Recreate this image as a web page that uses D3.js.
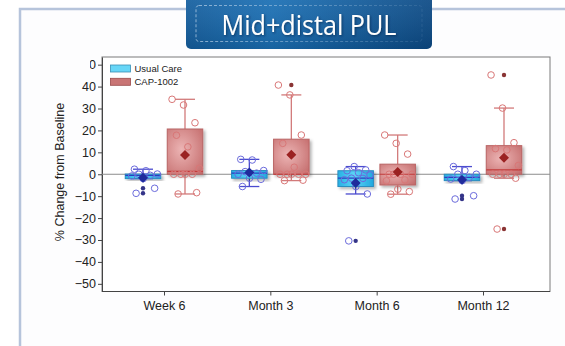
<!DOCTYPE html>
<html>
<head>
<meta charset="utf-8">
<script src="https://cdn.jsdelivr.net/npm/d3@7"></script>
<style>
  html, body { margin: 0; padding: 0; background: #fff; }
  svg { display: block; }
</style>
</head>
<body>
<svg id="chart" width="565" height="346"></svg>
<script>
// Visits and treatment groups
const categories = ["Week 6", "Month 3", "Month 6", "Month 12"];
const groups = ["Usual Care", "CAP-1002"];

// % change from baseline per subject, one array per visit
const usualCare = [
  [-8.7, -6.4, -2.0, -0.8, -0.5, 0, 0.1, 1.6, 2.3],
  [-5.6, -2.3, -1.8, 0, 0.5, 1.2, 1.7, 6.5, 6.8],
  [-30.4, -9.0, -5.6, -2.5, -1.9, -1.8, -0.3, 0.7, 1.6, 2.0, 3.5],
  [-11.3, -9.8, -2.9, -2.2, -1.4, 0, 0, 1.7, 3.5]
];
const cap1002 = [
  [-9.0, -8.4, 0, 0, 0, 0, 2.7, 12.5, 17.8, 23.5, 31.6, 34.2],
  [-2.9, -2.7, 0, 0, 0, 0, 0, 3.2, 14.1, 17.9, 36.2, 40.7],
  [-9.1, -7.9, -6.8, -3.0, -2.6, 0, 0, 0, 0, 9.2, 14.1, 17.9],
  [-25.0, -1.8, 0, 0, 0, 0, 4.0, 11.1, 11.7, 14.4, 30.2, 45.3]
];

const yTicks = [50, 40, 30, 20, 10, 0, -10, -20, -30, -40, -50];
const titleText = "Mid+distal PUL";
const yLabel = "% Change from Baseline";

// ---- layout ----
const plot = { left: 102, right: 550, top: 57, bottom: 291.5 };
const boxW = 35.5, groupOffset = 21, capW = 20, jitterHalf = 15;

const svg = d3.select("#chart");
const defs = svg.append("defs");

// gradients / filters
const bannerGrad = defs.append("linearGradient").attr("id", "bannerGrad")
  .attr("x1", "0").attr("x2", "1").attr("y1", "0").attr("y2", "0");
bannerGrad.append("stop").attr("offset", "0%").attr("stop-color", "#145fa0");
bannerGrad.append("stop").attr("offset", "35%").attr("stop-color", "#1a70b6");
bannerGrad.append("stop").attr("offset", "100%").attr("stop-color", "#0b4a86");

const bannerShade = defs.append("linearGradient").attr("id", "bannerShade")
  .attr("x1", "0").attr("x2", "0").attr("y1", "0").attr("y2", "1");
bannerShade.append("stop").attr("offset", "0%").attr("stop-color", "#fff").attr("stop-opacity", 0.08);
bannerShade.append("stop").attr("offset", "100%").attr("stop-color", "#000").attr("stop-opacity", 0.12);

const dashGrad = defs.append("linearGradient").attr("id", "dashGrad")
  .attr("x1", "0").attr("x2", "1").attr("y1", "0").attr("y2", "0");
dashGrad.append("stop").attr("offset", "0%").attr("stop-color", "#c8dcef").attr("stop-opacity", 0.65);
dashGrad.append("stop").attr("offset", "100%").attr("stop-color", "#c8dcef").attr("stop-opacity", 0.1);

const ucGrad = defs.append("linearGradient").attr("id", "ucGrad")
  .attr("x1", "0").attr("x2", "1").attr("y1", "0").attr("y2", "0");
ucGrad.append("stop").attr("offset", "0%").attr("stop-color", "#27b0e4");
ucGrad.append("stop").attr("offset", "45%").attr("stop-color", "#5ad4f6");
ucGrad.append("stop").attr("offset", "100%").attr("stop-color", "#22a8de");

const capGrad = defs.append("radialGradient").attr("id", "capGrad")
  .attr("cx", "0.4").attr("cy", "0.45").attr("r", "0.75");
capGrad.append("stop").attr("offset", "0%").attr("stop-color", "#ecb4b4");
capGrad.append("stop").attr("offset", "100%").attr("stop-color", "#c56e6e");

const shadow = defs.append("filter").attr("id", "shadow")
  .attr("x", "-30%").attr("y", "-30%").attr("width", "170%").attr("height", "170%");
shadow.append("feDropShadow").attr("dx", 2).attr("dy", 2).attr("stdDeviation", 1.4)
  .attr("flood-color", "#000").attr("flood-opacity", 0.3);

const textShadow = defs.append("filter").attr("id", "textShadow")
  .attr("x", "-10%").attr("y", "-30%").attr("width", "120%").attr("height", "160%");
textShadow.append("feDropShadow").attr("dx", 1).attr("dy", 1).attr("stdDeviation", 0.8)
  .attr("flood-color", "#001a40").attr("flood-opacity", 0.6);

// ---- page panel ----
svg.append("rect").attr("x", 0).attr("y", 0).attr("width", 565).attr("height", 346).attr("fill", "#fff");
svg.append("rect").attr("x", 20).attr("y", 9).attr("width", 600).attr("height", 400)
  .attr("fill", "#fdfdfe").attr("stroke", "#b6c4db").attr("stroke-width", 2.5);

// ---- title banner ----
const banner = svg.append("g");
banner.append("rect").attr("x", 186).attr("y", -6).attr("width", 246).attr("height", 55).attr("rx", 5)
  .attr("fill", "url(#bannerGrad)");
banner.append("rect").attr("x", 186).attr("y", -6).attr("width", 246).attr("height", 55).attr("rx", 5)
  .attr("fill", "url(#bannerShade)");
banner.append("rect").attr("x", 196).attr("y", 5.5).attr("width", 226).attr("height", 36).attr("rx", 3)
  .attr("fill", "none").attr("stroke", "url(#dashGrad)").attr("stroke-width", 1)
  .attr("stroke-dasharray", "3,2");
banner.append("text").attr("x", 309).attr("y", 34.5).attr("text-anchor", "middle")
  .attr("font-family", "'Open Sans', 'Noto Sans', sans-serif").attr("font-size", 27)
  .attr("textLength", 175).attr("lengthAdjust", "spacingAndGlyphs")
  .attr("fill", "#fff").attr("filter", "url(#textShadow)").text(titleText);

// ---- scales ----
const y = d3.scaleLinear().domain([-53.5, 53.5]).range([plot.bottom, plot.top]);
const x = d3.scalePoint().domain(categories).range([164, 483]);
const xg = d3.scaleOrdinal().domain(groups).range([-groupOffset, groupOffset]);

// plot background and frame
svg.append("rect").attr("x", plot.left).attr("y", plot.top)
  .attr("width", plot.right - plot.left).attr("height", plot.bottom - plot.top)
  .attr("fill", "#fff").attr("stroke", "#7a7a7a").attr("stroke-width", 1);

// ---- axes ----
const font = "'Liberation Sans', Arial, sans-serif";
const yAxis = svg.append("g").attr("transform", `translate(${plot.left},0)`)
  .call(d3.axisLeft(y).tickValues(yTicks).tickSize(4).tickPadding(2).tickSizeOuter(0));
yAxis.select(".domain").attr("stroke", "#444");
yAxis.selectAll(".tick line").attr("stroke", "#444");
yAxis.selectAll(".tick text").attr("font-family", font).attr("font-size", 12.5).attr("fill", "#222");

// the top label sits under the page margin, only its right edge shows
defs.append("clipPath").attr("id", "topLabelClip")
  .append("rect").attr("x", -12).attr("y", -10).attr("width", 12).attr("height", 20);
yAxis.selectAll(".tick").filter(d => d === 50).attr("clip-path", "url(#topLabelClip)");

const xAxis = svg.append("g").attr("transform", `translate(0,${plot.bottom})`)
  .call(d3.axisBottom(x).tickSize(4).tickPadding(6).tickSizeOuter(0));
xAxis.select(".domain").remove();
xAxis.selectAll(".tick line").attr("stroke", "#444");
xAxis.selectAll(".tick text").attr("font-family", font).attr("font-size", 12.5).attr("fill", "#222");
svg.append("line").attr("x1", plot.left).attr("x2", plot.right)
  .attr("y1", plot.bottom).attr("y2", plot.bottom).attr("stroke", "#444");

svg.append("text").attr("transform", `translate(64,172) rotate(-90)`)
  .attr("text-anchor", "middle").attr("font-family", font).attr("font-size", 12.5)
  .attr("fill", "#222").text(yLabel);

// zero reference line
svg.append("line").attr("x1", plot.left).attr("x2", plot.right)
  .attr("y1", y(0)).attr("y2", y(0)).attr("stroke", "#8c8c8c").attr("stroke-width", 1);

// ---- box statistics (quantile definition 5) ----
function quant(sorted, p) {
  const n = sorted.length, np = n * p;
  const j = Math.floor(np + 1e-9);
  if (Math.abs(np - j) < 1e-9) return (sorted[j - 1] + sorted[j]) / 2;
  return sorted[j];
}
function stats(values) {
  const s = values.slice().sort(d3.ascending);
  const q1 = quant(s, 0.25), med = quant(s, 0.5), q3 = quant(s, 0.75);
  const iqr = q3 - q1, lo = q1 - 1.5 * iqr, hi = q3 + 1.5 * iqr;
  const inside = s.filter(v => v >= lo && v <= hi);
  return {
    q1, med, q3, mean: d3.mean(s),
    wLo: d3.min(inside), wHi: d3.max(inside),
    outliers: s.filter(v => v < lo || v > hi),
    values: values
  };
}

const styles = {
  "Usual Care": { fill: "url(#ucGrad)", stroke: "#2a8cbf", whisker: "#4b4bcf", median: "#2a3fc0",
                  circle: "#6b6bdc", dot: "#343488", mean: "#1f2b9c" },
  "CAP-1002":   { fill: "url(#capGrad)", stroke: "#b96464", whisker: "#d27a7a", median: "#c23a3a",
                  circle: "#d97777", dot: "#8a3434", mean: "#9b2222" }
};

const series = [];
categories.forEach((c, i) => {
  series.push({ cat: c, group: groups[0], ...stats(usualCare[i]) });
  series.push({ cat: c, group: groups[1], ...stats(cap1002[i]) });
});

const cx = d => x(d.cat) + xg(d.group);
const boxes = svg.append("g").selectAll("g").data(series).join("g");

// whiskers, boxes and medians
boxes.each(function (d) {
  const g = d3.select(this), st = styles[d.group], c = cx(d);
  [[d.q3, d.wHi], [d.q1, d.wLo]].forEach(([a, b]) => {
    g.append("line").attr("x1", c).attr("x2", c).attr("y1", y(a)).attr("y2", y(b))
      .attr("stroke", st.whisker).attr("stroke-width", 1.3);
    g.append("line").attr("x1", c - capW / 2).attr("x2", c + capW / 2).attr("y1", y(b)).attr("y2", y(b))
      .attr("stroke", st.whisker).attr("stroke-width", 1.3);
  });
  g.append("rect").attr("x", c - boxW / 2).attr("y", y(d.q3))
    .attr("width", boxW).attr("height", Math.max(1, y(d.q1) - y(d.q3)))
    .attr("fill", st.fill).attr("stroke", st.stroke).attr("stroke-width", 1)
    .attr("filter", "url(#shadow)");
  g.append("line").attr("x1", c - boxW / 2).attr("x2", c + boxW / 2)
    .attr("y1", y(d.med)).attr("y2", y(d.med)).attr("stroke", st.median).attr("stroke-width", 1.2);
});

// individual subjects, spread deterministically across the box; outliers and mean on top
boxes.each(function (d) {
  const g = d3.select(this), st = styles[d.group], c = cx(d);
  d.values.forEach((v, i) => {
    const f = ((i * 0.618034 + 0.27) % 1) * 2 - 1;
    g.append("circle").attr("cx", c + f * jitterHalf).attr("cy", y(v)).attr("r", 3.3)
      .attr("fill", "none").attr("stroke", st.circle).attr("stroke-width", 1);
  });
  d.outliers.forEach(v => {
    g.append("circle").attr("cx", c).attr("cy", y(v)).attr("r", 2.2).attr("fill", st.dot);
  });
  g.append("path").attr("d", d3.symbol(d3.symbolSquare, 50)())
    .attr("transform", `translate(${c},${y(d.mean)}) rotate(45)`).attr("fill", st.mean);
});

// ---- legend ----
const legend = svg.append("g").attr("transform", "translate(110.5,65)");
const swatch = { "Usual Care": ["#67d6f7", "#3a8fb5"], "CAP-1002": ["#c97575", "#9a4a4a"] };
groups.forEach((gname, i) => {
  const row = legend.append("g").attr("transform", `translate(0,${i * 13.3})`);
  row.append("rect").attr("width", 20).attr("height", 7)
    .attr("fill", swatch[gname][0]).attr("stroke", swatch[gname][1]).attr("stroke-width", 0.8);
  row.append("text").attr("x", 24).attr("y", 7).attr("font-family", font).attr("font-size", 9.5)
    .attr("fill", "#222").text(gname);
});
</script>
</body>
</html>
